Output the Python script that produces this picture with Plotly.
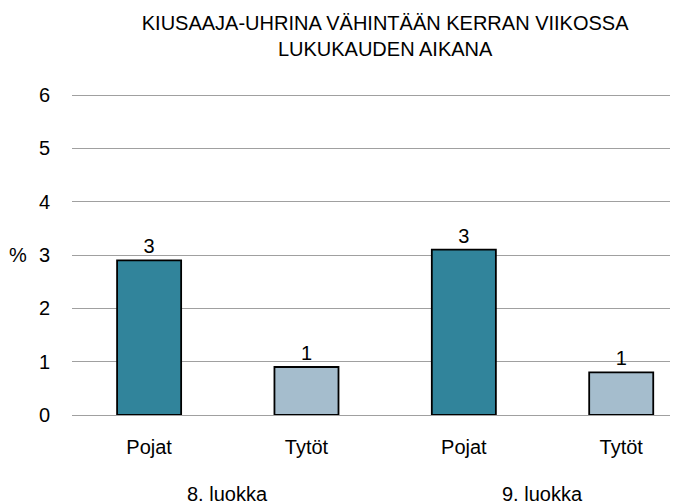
import plotly.graph_objects as go

groups = ["8. luokka", "8. luokka", "9. luokka", "9. luokka"]
genders = ["Pojat", "Tytöt", "Pojat", "Tytöt"]
values = [2.9, 0.9, 3.1, 0.8]
colors = ["#31849B", "#A5BDCD", "#31849B", "#A5BDCD"]
title = "KIUSAAJA-UHRINA VÄHINTÄÄN KERRAN VIIKOSSA<br>LUKUKAUDEN AIKANA"
y_ticks = [0, 1, 2, 3, 4, 5, 6]

FONT = "Liberation Sans, Arial"
xpos = list(range(len(values)))

fig = go.Figure(go.Bar(
    x=xpos,
    y=values,
    marker=dict(color=colors, line=dict(color="#000000", width=1.8)),
    width=0.407,
    texttemplate="%{y:.0f}",
    textposition="outside",
    textfont=dict(size=20, color="#000000", family=FONT),
    cliponaxis=False,
))

# group labels centred under each group of bars
group_names = list(dict.fromkeys(groups))
annotations = []
for g in group_names:
    idx = [i for i, gg in enumerate(groups) if gg == g]
    annotations.append(dict(text=g, xref="x", yref="paper", x=sum(idx) / len(idx), y=-0.245,
                            showarrow=False, xanchor="center", yanchor="middle",
                            font=dict(size=20)))
annotations.append(dict(text="%", xref="paper", yref="y", x=-0.09, y=3,
                        showarrow=False, xanchor="center", yanchor="middle",
                        font=dict(size=20)))

fig.update_layout(
    width=692, height=504,
    margin=dict(l=64, r=30, t=86, b=97),
    paper_bgcolor="white", plot_bgcolor="white",
    font=dict(family=FONT, size=20, color="#000000"),
    title=dict(text=title, x=0.545, xref="container", xanchor="center", y=0.957, yanchor="top",
               font=dict(size=20, color="#000000")),
    showlegend=False,
    xaxis=dict(range=[-0.49, 3.31], tickvals=xpos, ticktext=genders,
               showgrid=False, showline=False, zeroline=False, ticks="",
               ticklabelstandoff=18, tickfont=dict(size=20)),
    yaxis=dict(range=[0, 6.02], tickvals=y_ticks, showgrid=True, gridcolor="#A0A0A0",
               gridwidth=1, zeroline=True, zerolinecolor="#A0A0A0", zerolinewidth=1,
               ticks="", ticklabelstandoff=21, tickfont=dict(size=20)),
    annotations=annotations,
)

fig.write_html("out.html")
